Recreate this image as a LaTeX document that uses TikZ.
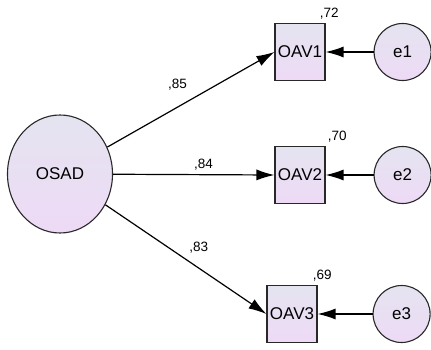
\documentclass[tikz,border=0pt]{standalone}
\usepackage{fontspec}
\setmainfont{Liberation Sans}
\usetikzlibrary{positioning,shapes.geometric,arrows.meta}
\definecolor{fillTop}{RGB}{228,228,240}
\definecolor{fillBot}{RGB}{238,218,246}
\definecolor{lineGray}{RGB}{40,40,40}

\begin{document}
\begin{tikzpicture}[x=1pt,y=-1pt,
	latent/.style={ellipse,draw=lineGray,line width=1.1pt,top color=fillTop,bottom color=fillBot,
		minimum width=105pt,minimum height=118pt,inner sep=0pt,font=\fontsize{17}{17}\selectfont},
	observed/.style={rectangle,draw=lineGray,line width=1.1pt,top color=fillTop,bottom color=fillBot,
		minimum width=50pt,minimum height=57pt,inner sep=0pt,font=\fontsize{17}{17}\selectfont},
	err/.style={circle,draw=lineGray,line width=1.1pt,top color=fillTop,bottom color=fillBot,
		minimum size=57pt,inner sep=0pt,font=\fontsize{17}{17}\selectfont},
	path/.style={draw=black,line width=1.2pt,-{Latex[length=18pt,width=11pt]}},
	lbl/.style={font=\fontsize{13.5}{13.5}\selectfont,inner sep=1pt}]
	\useasboundingbox (0,0) rectangle (431,350);
	%% latent factor
	\node[latent] (osad) at (60,174) {OSAD};
	%% indicators
	\node[observed] (oav1) at (300,52) {OAV1};
	\node[observed] (oav2) at (300,175) {OAV2};
	\node[observed] (oav3) at (292,314) {OAV3};
	%% error terms
	\node[err, right=48pt of oav1] (e1) {e1};
	\node[err, right=48pt of oav2] (e2) {e2};
	\node[err, right=55pt of oav3] (e3) {e3};
	%% squared multiple correlations
	\node[lbl, above right=3pt and -7pt of oav1.north east] {,72};
	\node[lbl, above right=3pt and 1pt of oav2.north east] {,70};
	\node[lbl, above right=3pt and -6pt of oav3.north east] {,69};
	% loadings
	\draw[path] (osad) -- node[lbl, pos=0.42, above=15pt] {,85} (oav1.west);
	\draw[path] (osad) -- node[lbl, pos=0.56, above=3pt] {,84} (oav2.west);
	\draw[path] (osad) -- node[lbl, pos=0.58, above=13pt] {,83} (oav3.west);
	% residuals
	\draw[path] (e1) -- (oav1);
	\draw[path] (e2) -- (oav2);
	\draw[path] (e3) -- (oav3);
\end{tikzpicture}
\end{document}
